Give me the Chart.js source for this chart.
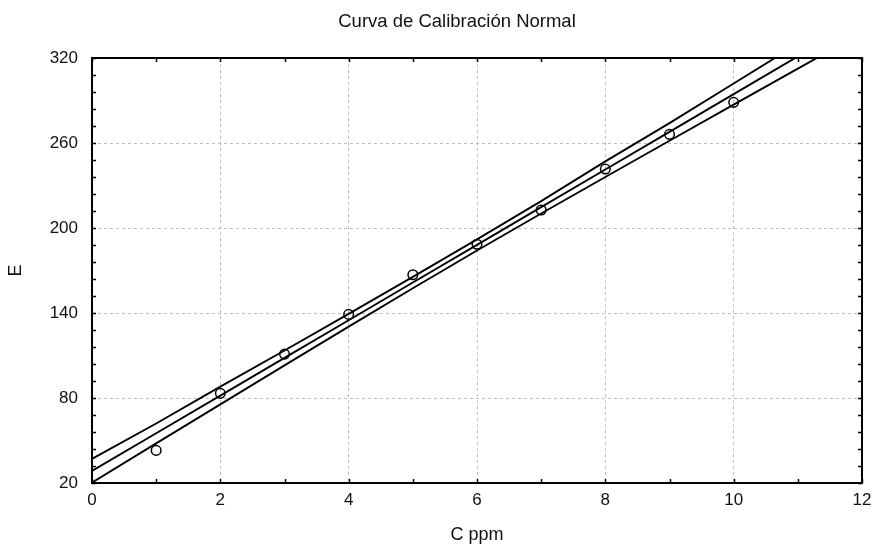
<!DOCTYPE html>
<html>
<head>
<meta charset="utf-8">
<script src="https://cdn.jsdelivr.net/npm/chart.js@4"></script>
<style>
  html, body { margin: 0; padding: 0; background: #fff; }
  #wrap { width: 873px; height: 546px; }
</style>
</head>
<body>
<div id="wrap"><canvas id="calib" width="873" height="546"></canvas></div>
<script>
// concentraciones (C ppm) y lecturas (E)
const concX = [1, 2, 3, 4, 5, 6, 7, 8, 9, 10];
const lecturaE = [43, 83.3, 111, 139, 167, 188.5, 212.7, 241.6, 266.1, 288.7];

// recta de ajuste y bandas de confianza
const lineX = [0, 1, 2, 3, 4, 5, 6, 7, 8, 9, 10, 11, 12];
const fitE = [28.5, 55.1, 81.7, 108.3, 134.9, 161.5, 188.1, 214.7, 241.3, 267.9, 294.5, 321.1, 347.7];
const upperE = [37, 62, 88, 113.5, 139.4, 165.5, 192, 219, 247, 274, 302, 330, 357.5];
const lowerE = [20.3, 48, 75.5, 103, 130.4, 157.5, 184.1, 210.2, 236, 261.6, 287.1, 312.5, 337.9];

const xTicks = ['0', '2', '4', '6', '8', '10', '12'];
const yTicks = ['20', '80', '140', '200', '260', '320'];

const txt = '#111';
const fontFam = 'Liberation Sans, Arial, sans-serif';

function pts(xs, ys) {
    return xs.map((x, i) => ({ x: x, y: ys[i] }));
}

// marco del grafico + marcas hacia adentro + titulo
const framePlugin = {
    id: 'frame',
    afterDraw(chart) {
        const ctx = chart.ctx;
        const a = chart.chartArea;
        const xs = chart.scales.x, ys = chart.scales.y;
        ctx.save();
        ctx.strokeStyle = '#000';
        ctx.lineWidth = 1.5;
        ctx.beginPath();
        xs.ticks.forEach(t => {
            const px = Math.round(xs.getPixelForValue(t.value)) + 0.5;
            ctx.moveTo(px, a.bottom); ctx.lineTo(px, a.bottom - 4);
            ctx.moveTo(px, a.top); ctx.lineTo(px, a.top + 4);
        });
        ys.ticks.forEach(t => {
            const py = Math.round(ys.getPixelForValue(t.value)) + 0.5;
            ctx.moveTo(a.left, py); ctx.lineTo(a.left + 4, py);
            ctx.moveTo(a.right, py); ctx.lineTo(a.right - 4, py);
        });
        ctx.stroke();
        ctx.lineWidth = 2;
        ctx.strokeRect(a.left, a.top, a.right - a.left, a.bottom - a.top);
        ctx.fillStyle = txt;
        ctx.font = '18.5px ' + fontFam;
        ctx.textAlign = 'center';
        ctx.textBaseline = 'middle';
        ctx.fillText('Curva de Calibración Normal', 457, 22);
        ctx.restore();
    }
};

const lineStyle = {
    type: 'line',
    borderColor: '#000',
    borderWidth: 1.9,
    pointRadius: 0,
    fill: false,
    tension: 0
};

new Chart(document.getElementById('calib'), {
    type: 'scatter',
    data: {
        datasets: [
            Object.assign({ label: 'superior', data: pts(lineX, upperE) }, lineStyle),
            Object.assign({ label: 'ajuste', data: pts(lineX, fitE) }, lineStyle),
            Object.assign({ label: 'inferior', data: pts(lineX, lowerE) }, lineStyle),
            {
                label: 'E',
                data: pts(concX, lecturaE),
                pointRadius: 4.8,
                pointBorderWidth: 1.5,
                pointBorderColor: '#000',
                pointBackgroundColor: 'rgba(255,255,255,0)'
            }
        ]
    },
    options: {
        responsive: false,
        animation: false,
        layout: { padding: { top: 58, right: 11, left: 0, bottom: 0 } },
        plugins: {
            legend: { display: false },
            tooltip: { enabled: false }
        },
        scales: {
            x: {
                type: 'linear',
                min: 0, max: 12,
                afterFit: s => {
                    s.height = 63;
                    s.paddingLeft = 0;
                    s.paddingRight = 0;
                },
                ticks: {
                    stepSize: 1,
                    autoSkip: false,
                    maxRotation: 0,
                    padding: 7,
                    color: txt,
                    font: { size: 17, family: fontFam },
                    callback: v => xTicks.includes(String(v)) ? String(v) : ''
                },
                grid: {
                    drawTicks: false,
                    lineWidth: 1,
                    color: c => (c.tick && xTicks.includes(String(c.tick.value))) ? '#bdbdbd' : 'rgba(0,0,0,0)'
                },
                border: { display: false, dash: [3, 3] },
                title: {
                    display: true,
                    text: 'C ppm',
                    color: txt,
                    font: { size: 18, family: fontFam },
                    padding: { top: 4, bottom: 0 }
                }
            },
            y: {
                type: 'linear',
                min: 20, max: 320,
                afterFit: s => { s.width = 92; },
                ticks: {
                    stepSize: 12,
                    autoSkip: false,
                    padding: 14,
                    color: txt,
                    font: { size: 17, family: fontFam },
                    callback: v => yTicks.includes(String(v)) ? String(v) : ''
                },
                grid: {
                    drawTicks: false,
                    lineWidth: 1,
                    color: c => (c.tick && yTicks.includes(String(c.tick.value))) ? '#bdbdbd' : 'rgba(0,0,0,0)'
                },
                border: { display: false, dash: [3, 3] },
                title: {
                    display: true,
                    text: 'E',
                    color: txt,
                    font: { size: 18, family: fontFam },
                    padding: { top: 5, bottom: 4 }
                }
            }
        }
    },
    plugins: [framePlugin]
});
</script>
</body>
</html>
